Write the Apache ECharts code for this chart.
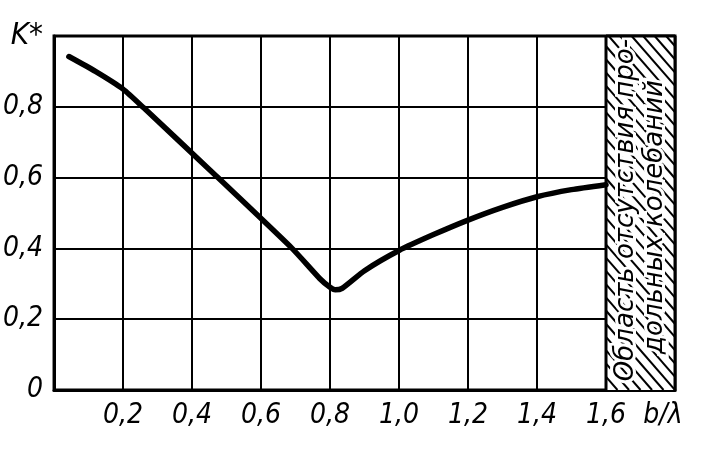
<!DOCTYPE html>
<html>
<head>
<meta charset="utf-8">
<script src="https://cdn.jsdelivr.net/npm/echarts@6/dist/echarts.min.js"></script>
<style>html,body{margin:0;padding:0;background:#fff;}#c{width:713px;height:452px;}</style>
</head>
<body>
<div id="c"></div>
<script>
// Data
const ratioValues = [0.043, 0.12, 0.2, 0.26, 0.45, 0.69, 0.77, 0.80, 0.815, 0.835, 0.9, 1.0, 1.1, 1.2, 1.3, 1.4, 1.5, 1.6];
const kValues     = [0.942, 0.9, 0.85, 0.797, 0.623, 0.4, 0.315, 0.29, 0.283, 0.287, 0.337, 0.394, 0.439, 0.48, 0.516, 0.546, 0.566, 0.58];
const xTicks = [0, 0.2, 0.4, 0.6, 0.8, 1.0, 1.2, 1.4, 1.6, 1.8];
const yTicks = [0, 0.2, 0.4, 0.6, 0.8, 1.0];
const regionRange = [1.6, 1.8];
const regionText = ['Область отсутствия про-', 'дольных колебаний'];
const xName = 'b/λ';
const yName = 'K*';

const labelFont = "'DejaVu Sans Condensed', 'DejaVu Sans', sans-serif";
const regionFont = "'DejaVu Sans', sans-serif";

function fmt(v) { return v.toFixed(1).replace('.', ','); }

const chart = echarts.init(document.getElementById('c'), null, {renderer: 'canvas'});
chart.setOption({
  animation: false,
  backgroundColor: '#fff',
  grid: {left: 53, right: 38, top: 36, bottom: 62, show: true, borderColor: '#000', borderWidth: 3, backgroundColor: 'transparent'},
  xAxis: {
    type: 'value', min: xTicks[0], max: xTicks[xTicks.length - 1], interval: 0.2,
    axisLine: {show: true, lineStyle: {color: '#000', width: 3}},
    axisTick: {show: false},
    splitLine: {show: true, lineStyle: {color: '#000', width: 2}},
    axisLabel: {
      margin: 12, color: '#000', fontSize: 28, fontStyle: 'italic', fontFamily: labelFont,
      showMinLabel: true, showMaxLabel: true,
      formatter: function (v) {
        if (Math.abs(v) < 1e-9) return '';
        if (v > 1.79) return '{n|' + xName + '}';
        return fmt(v);
      },
      rich: {n: {fontSize: 28, fontStyle: 'italic', fontFamily: labelFont, color: '#000', padding: [0, 24, 0, 0]}}
    }
  },
  yAxis: {
    type: 'value', min: yTicks[0], max: yTicks[yTicks.length - 1], interval: 0.2,
    axisLine: {show: true, lineStyle: {color: '#000', width: 3}},
    axisTick: {show: false},
    splitLine: {show: true, lineStyle: {color: '#000', width: 2}},
    axisLabel: {
      margin: 11, color: '#000', fontSize: 28, fontStyle: 'italic', fontFamily: labelFont,
      formatter: function (v) {
        if (Math.abs(v) < 1e-9) return '0';
        if (v > 0.99) return '{k|' + yName + '}';
        return fmt(v);
      },
      rich: {k: {fontSize: 31, fontStyle: 'italic', fontFamily: labelFont, color: '#000', padding: [0, 0, 0, 0]}}
    }
  },
  series: [
    {
      type: 'custom',
      data: [regionRange],
      z: 3,
      renderItem: function (params, api) {
        const p0 = api.coord([api.value(0), 0]);
        const p1 = api.coord([api.value(1), 1]);
        const x0 = p0[0], x1 = p1[0], yb = p0[1], yt = p1[1];
        const w = x1 - x0, h = yb - yt;
        const children = [];
        children.push({type: 'rect', shape: {x: x0, y: yt, width: w, height: h}, style: {fill: '#fff'}});
        const hatch = [];
        const step = 11.5;
        const slope = 1.15;
        for (let s = x0 - h / slope; s < x1; s += step) {
          hatch.push({type: 'line', shape: {x1: s, y1: yt, x2: s + h / slope, y2: yb}, style: {stroke: '#000', lineWidth: 2}});
        }
        children.push({type: 'group', children: hatch,
          clipPath: {type: 'rect', shape: {x: x0, y: yt, width: w, height: h}}});
        const cy = (yt + yb) / 2;
        children.push({type: 'text', x: x0 + w * 0.30, y: cy - 3, rotation: Math.PI / 2,
          style: {text: regionText[0], x: 0, y: 0, align: 'center', verticalAlign: 'middle',
            font: 'italic 26px ' + regionFont, fill: '#000', stroke: '#fff', lineWidth: 6, strokeFirst: true}});
        children.push({type: 'text', x: x0 + w * 0.72, y: cy + 4, rotation: Math.PI / 2,
          style: {text: regionText[1], x: 0, y: 0, align: 'center', verticalAlign: 'middle',
            font: 'italic 26px ' + regionFont, fill: '#000', stroke: '#fff', lineWidth: 6, strokeFirst: true}});
        children.push({type: 'line', shape: {x1: x0, y1: yt, x2: x0, y2: yb}, style: {stroke: '#000', lineWidth: 3}});
        children.push({type: 'line', shape: {x1: x1, y1: yt, x2: x1, y2: yb}, style: {stroke: '#000', lineWidth: 3}});
        children.push({type: 'line', shape: {x1: x0, y1: yt, x2: x1, y2: yt}, style: {stroke: '#000', lineWidth: 3}});
        return {type: 'group', children: children};
      }
    },
    {
      type: 'line',
      z: 4,
      data: ratioValues.map((x, i) => [x, kValues[i]]),
      showSymbol: false,
      smooth: 0.2,
      lineStyle: {color: '#000', width: 5.5, cap: 'round', join: 'round'}
    }
  ]
});
</script>
</body>
</html>
